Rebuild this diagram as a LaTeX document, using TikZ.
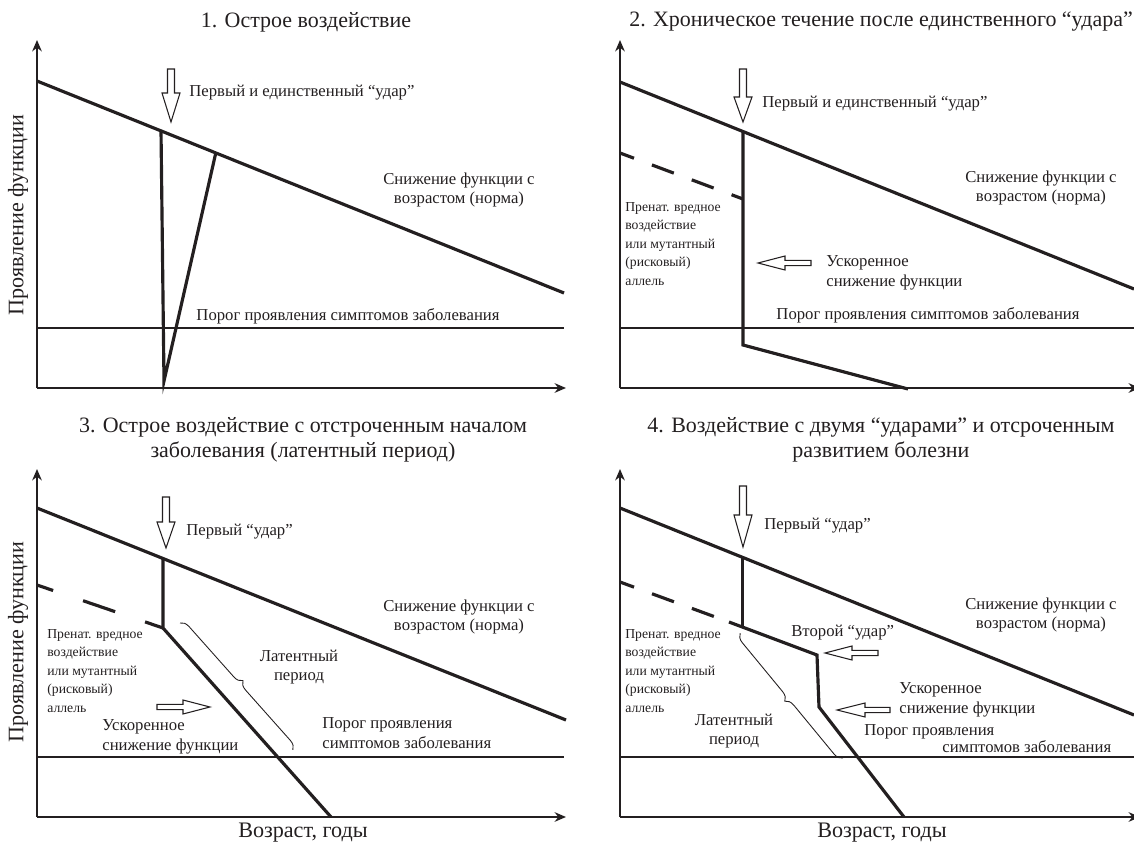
\documentclass[tikz,border=0pt]{standalone}
\usepackage{fontspec}
\setmainfont{Liberation Serif}
\usepackage{xcolor}
\definecolor{cInk}{HTML}{231F20}
\usetikzlibrary{arrows.meta,decorations.pathreplacing,calc}
\tikzset{
  line-norm/.style={draw=cInk,line width=1.8pt},
  line-dash/.style={draw=cInk,line width=1.8pt,dash pattern=on 13.3pt off 10.9pt,dash phase=4.8pt},
  line-thr/.style={draw=cInk,line width=0.75pt},
  axis/.style={draw=cInk,line width=0.85pt,-{Stealth[length=6.5pt,width=5.5pt]}},
  hollow/.style={draw=cInk,line width=0.6pt,fill=white},
  brace-lat/.style={draw=cInk,line width=0.5pt,decorate,decoration={brace,amplitude=5pt}},
  txt-title/.style={font=\fontsize{12.5}{14.2}\selectfont,text=cInk,align=center,inner sep=0pt},
  txt-axis/.style={font=\fontsize{12.6}{14}\selectfont,text=cInk,inner sep=0pt},
  txt-lbl/.style={font=\fontsize{9.5}{11.2}\selectfont,text=cInk,align=center,inner sep=0pt},
  txt-small/.style={font=\fontsize{7.8}{10.5}\selectfont,text=cInk,align=left,inner sep=0pt},
}
% hollow block arrows: x, top, head start, tip / y, tail, head start, tip
\newcommand{\arrdown}[4]{%
  \draw[hollow] (#1-3.5,#2) -- (#1+3.5,#2) -- (#1+3.5,#3) -- (#1+9,#3)
    -- (#1,#4) -- (#1-9,#3) -- (#1-3.5,#3) -- cycle;}
\newcommand{\arrside}[4]{%
  \draw[hollow] (#2,#1-2.7) -- (#3,#1-2.7) -- (#3,#1-7) -- (#4,#1)
    -- (#3,#1+7) -- (#3,#1+2.7) -- (#2,#1+2.7) -- cycle;}

\begin{document}
\begin{tikzpicture}[x=0.02cm,y=-0.02cm]
  \useasboundingbox (0,0) rectangle (1134,842);

  % axes and thresholds
  \foreach \ox/\oy/\len in {37/388/529, 620/388/520, 37/817/529, 620/817/520} {
    \draw[axis] (\ox,\oy) -- (\ox,\oy-348);
    \draw[axis] (\ox,\oy) -- (\ox+\len,\oy);
    \draw[line-thr] (\ox,\oy-60) -- (\ox+527,\oy-60);
  }

  % 1
  \node[txt-title] (t1) at (306,22) {1. Острое воздействие};
  \node[txt-axis,rotate=90] (ya1) at (18,215) {Проявление функции};
  \draw[line-norm] (37,81) -- (564,293);
  \draw[line-norm] (161,130) -- (164,381) -- (216,152);
  \arrdown{171}{69}{93}{122}
  \node[txt-lbl,anchor=west] (hit1) at (189,93) {Первый и единственный “удар”};
  \node[txt-lbl] (norm1) at (459,190) {Снижение функции с\\возрастом (норма)};
  \node[txt-lbl] (thr1) at (348,316) {Порог проявления симптомов заболевания};

  % 2
  \node[txt-title] (t2) at (881,22) {2. Хроническое течение после единственного “удара”};
  \draw[line-norm] (620,82) -- (1134,289);
  \draw[line-dash] (620,153) -- (743,199);
  \draw[line-norm] (743,131) -- (743,345) -- (908,389);
  \arrdown{743}{69}{97}{122}
  \arrside{263}{811}{785}{758}
  \node[txt-lbl,anchor=west] (hit2) at (762,104) {Первый и единственный “удар”};
  \node[txt-lbl] (norm2) at (1041,188) {Снижение функции с\\возрастом (норма)};
  \node[txt-small,anchor=west] (pre2) at (625,244) {Пренат. вредное\\воздействие\\или мутантный\\(рисковый)\\аллель};
  \node[txt-lbl,anchor=west,align=left] (acc2) at (826,273) {Ускоренное\\снижение функции};
  \node[txt-lbl] (thr2) at (928,315) {Порог проявления симптомов заболевания};

  % 3
  \node[txt-title] (t3) at (303,440) {3. Острое воздействие с отстроченным началом\\заболевания (латентный период)};
  \node[txt-axis,rotate=90] (ya3) at (18,642) {Проявление функции};
  \node[txt-axis] (xa3) at (303,833) {Возраст, годы};
  \draw[line-norm] (37,508) -- (566,720);
  \draw[line-dash,dash pattern=on 19.3pt off 18pt,dash phase=9.6pt] (37,585) -- (163,628);
  \draw[line-norm] (163,558) -- (163,628) -- (331,817);
  \arrdown{166}{497}{522}{548}
  \arrside{707}{157}{183}{210}
  \draw[brace-lat] (180,623) -- (293,750);
  \node[txt-lbl,anchor=west] (hit3) at (186,532) {Первый “удар”};
  \node[txt-lbl] (norm3) at (459,617) {Снижение функции с\\возрастом (норма)};
  \node[txt-small,anchor=west] (pre3) at (47,671) {Пренат. вредное\\воздействие\\или мутантный\\(рисковый)\\аллель};
  \node[txt-lbl] (lat3) at (299,667) {Латентный\\период};
  \node[txt-lbl,anchor=west,align=left] (acc3) at (102,737) {Ускоренное\\снижение функции};
  \node[txt-lbl,anchor=west,align=left] (thr3) at (322,733) {Порог проявления\\симптомов заболевания};

  % 4
  \node[txt-title] (t4) at (881,440) {4. Воздействие с двумя “ударами” и отсроченным\\развитием болезни};
  \node[txt-axis] (xa4) at (882,833) {Возраст, годы};
  \draw[line-norm] (620,508) -- (1134,715);
  \draw[line-dash] (620,582) -- (729,622);
  \draw[line-norm] (742.5,557) -- (742.5,627);
  \draw[line-norm] (729,622) -- (817,655) -- (819,707) -- (904,817);
  \arrdown{743}{486}{515}{547}
  \arrside{653}{878}{852}{825}
  \arrside{710}{890}{865}{837}
  \draw[brace-lat] (843,758) -- (740,633);
  \node[txt-lbl,anchor=west] (hit4) at (764,526) {Первый “удар”};
  \node[txt-lbl,anchor=west] (hit4b) at (791,633) {Второй “удар”};
  \node[txt-lbl] (norm4) at (1041,615) {Снижение функции с\\возрастом (норма)};
  \node[txt-small,anchor=west] (pre4) at (625,671) {Пренат. вредное\\воздействие\\или мутантный\\(рисковый)\\аллель};
  \node[txt-lbl] (lat4) at (734,731) {Латентный\\период};
  \node[txt-lbl,anchor=west,align=left] (acc4) at (899,700) {Ускоренное\\снижение функции};
  \node[txt-lbl,anchor=west] (thr4a) at (864,732) {Порог проявления};
  \node[txt-lbl,anchor=west] (thr4b) at (942,747) {симптомов заболевания};
\end{tikzpicture}
\end{document}
